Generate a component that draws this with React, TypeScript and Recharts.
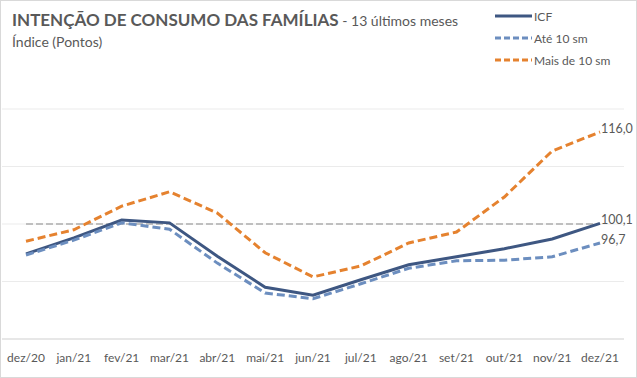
import React from "react";
import { CartesianGrid, Line, LineChart, ReferenceLine, XAxis, YAxis } from "recharts";

const months = ["dez/20", "jan/21", "fev/21", "mar/21", "abr/21", "mai/21", "jun/21", "jul/21", "ago/21", "set/21", "out/21", "nov/21", "dez/21"];
const icf = [94.8, 97.6, 100.7, 100.2, 94.4, 89.0, 87.6, 90.3, 92.9, 94.3, 95.7, 97.4, 100.1];
const ate10 = [94.6, 97.2, 100.2, 99.1, 93.2, 88.0, 87.0, 89.6, 92.3, 93.6, 93.7, 94.3, 96.7];
const mais10 = [97.0, 99.0, 103.1, 105.6, 101.9, 95.0, 90.8, 92.7, 96.7, 98.6, 104.7, 112.7, 116.0];
const yTicks = [80, 90, 100, 110, 120];

const series = [
  { key: "icf", name: "ICF", color: "#3E5782", dash: undefined as string | undefined },
  { key: "ate", name: "Até 10 sm", color: "#6C8EBF", dash: "8 4" },
  { key: "mais", name: "Mais de 10 sm", color: "#E5822F", dash: "8 4" },
];

const grey = "#595959";

function endLabel(props: any) {
  const { x, y, index, value } = props;
  if (index !== months.length - 1) return null;
  return (
    <text x={x + 1} y={y} dy={1} fontSize={12.5} fill={grey} textAnchor="start">
      {Number(value).toFixed(1).replace(".", ",")}
    </text>
  );
}

export default function App() {
  const data = months.map((month, i) => ({ month, icf: icf[i], ate: ate10[i], mais: mais10[i] }));

  return (
    <div style={{ position: "relative", width: 637, height: 378, background: "#fff", fontFamily: "Lato, 'Open Sans', sans-serif" }}>
      <style>{`body{margin:0}`}</style>
      <LineChart width={637} height={378} data={data} margin={{ top: 109, right: 13, left: 2, bottom: 9 }}>
        <CartesianGrid vertical={false} stroke="#EBEBEB" />
        <YAxis hide domain={[80, 120]} ticks={yTicks} />
        <XAxis
          dataKey="month"
          height={30}
          padding={{ left: 24, right: 24 }}
          tickLine={false}
          tickMargin={8}
          stroke="#D9D9D9"
          tick={{ fill: grey, fontSize: 12 }}
          interval={0}
        />
        <ReferenceLine
          segment={[
            { x: months[0], y: 100 },
            { x: months[months.length - 1], y: 100 },
          ]}
          stroke="#BFBFBF"
          strokeWidth={2}
          strokeDasharray="7 3"
        />
        {series.map((s) => (
          <Line
            key={s.key}
            dataKey={s.key}
            name={s.name}
            type="linear"
            stroke={s.color}
            strokeWidth={3}
            strokeDasharray={s.dash}
            dot={false}
            activeDot={false}
            label={endLabel}
            isAnimationActive={false}
          />
        ))}
      </LineChart>

      <div style={{ position: "absolute", left: 12, top: 9, color: grey, whiteSpace: "nowrap" }}>
        <span style={{ fontWeight: 700, fontSize: 17 }}>INTENÇÃO DE CONSUMO DAS FAMÍLIAS</span>
        <span style={{ fontSize: 14 }}> - 13 últimos meses</span>
      </div>
      <div style={{ position: "absolute", left: 12, top: 33, color: grey, fontSize: 14 }}>Índice (Pontos)</div>

      <div style={{ position: "absolute", left: 495, top: 5, color: grey, fontSize: 12 }}>
        {series.map((s) => (
          <div key={s.key} style={{ display: "flex", alignItems: "center", height: 22 }}>
            <svg width={37} height={6}>
              <line x1={0} y1={3} x2={37} y2={3} stroke={s.color} strokeWidth={3} strokeDasharray={s.dash ? "6 3" : undefined} />
            </svg>
            <span style={{ marginLeft: 2 }}>{s.name}</span>
          </div>
        ))}
      </div>

      <div style={{ position: "absolute", inset: 0, border: "1px solid #D9D9D9", pointerEvents: "none" }} />
    </div>
  );
}
